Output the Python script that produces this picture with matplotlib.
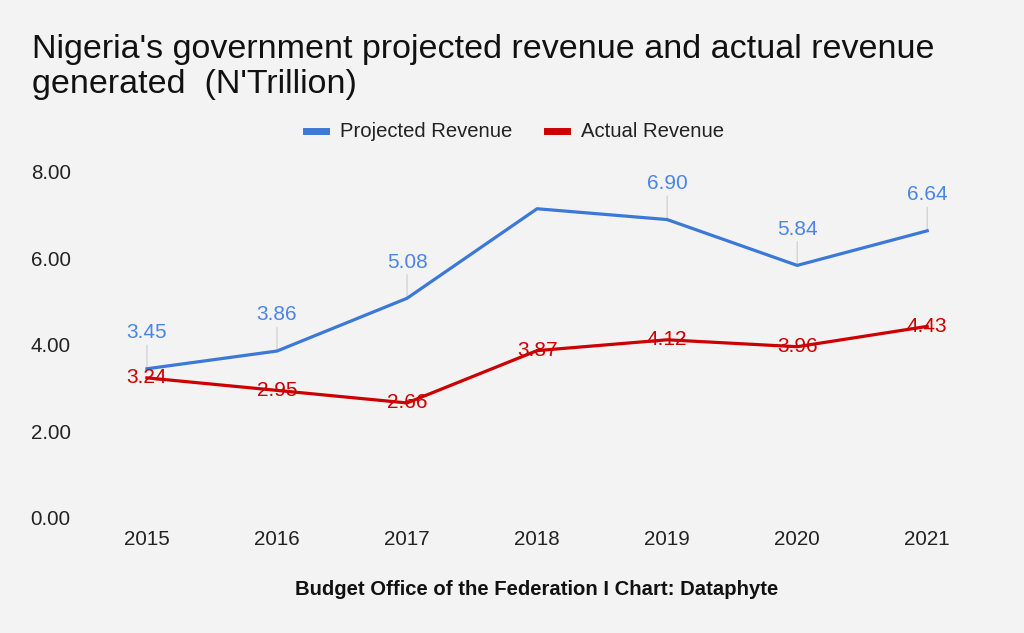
import matplotlib.pyplot as plt

years = ["2015", "2016", "2017", "2018", "2019", "2020", "2021"]
projected = [3.45, 3.86, 5.08, 7.15, 6.90, 5.84, 6.64]
actual = [3.24, 2.95, 2.66, 3.87, 4.12, 3.96, 4.43]
# 2018 projected value is not labelled on the original chart
projected_labels = ["3.45", "3.86", "5.08", "", "6.90", "5.84", "6.64"]
actual_labels = ["3.24", "2.95", "2.66", "3.87", "4.12", "3.96", "4.43"]
title_lines = ["Nigeria's government projected revenue and actual revenue",
               "generated  (N'Trillion)"]

BG = "#f3f3f3"
BLUE = "#3c78d8"
RED = "#cc0000"

plt.rcParams["font.family"] = ["Liberation Sans", "DejaVu Sans"]

fig = plt.figure(figsize=(10.24, 6.33), dpi=100, facecolor=BG)
ax = fig.add_axes([0.080, 0.1817, 0.889, 0.5466], facecolor=BG)

x = list(range(len(years)))
ax.plot(x, projected, color=BLUE, lw=2.3, label="Projected Revenue", zorder=3)
ax.plot(x, actual, color=RED, lw=2.3, label="Actual Revenue", zorder=3)

for xi, v, lab in zip(x, projected, projected_labels):
    if not lab:
        continue
    ax.annotate("", xy=(xi, v), xytext=(0, 17), textcoords="offset points",
                arrowprops=dict(arrowstyle="-", color="#cccccc", lw=0.8,
                                shrinkA=0, shrinkB=0), zorder=2)
    ax.annotate(lab, xy=(xi, v), xytext=(0, 26), textcoords="offset points",
                ha="center", va="center", fontsize=15, color="#4a86e8", zorder=4)

for xi, v, lab in zip(x, actual, actual_labels):
    ax.text(xi, v, lab, ha="center", va="center", fontsize=15, color=RED, zorder=4)

ax.set_xlim(-0.5, len(years) - 0.5)
ax.set_ylim(0, 8)
ax.set_xticks(x)
ax.set_xticklabels(years)
ax.set_yticks([0, 2, 4, 6, 8])
ax.set_yticklabels(["0.00", "2.00", "4.00", "6.00", "8.00"])
ax.tick_params(length=0, labelsize=14.8, colors="#222222", pad=9)
ax.tick_params(axis="y", pad=8)
for s in ax.spines.values():
    s.set_visible(False)

for i, line in enumerate(title_lines):
    fig.text(0.031, 0.9084 - i * 0.0553, line, fontsize=24.5, color="#111111",
             va="baseline", ha="left")

ax.legend(ncol=2, frameon=False, fontsize=14.6, handlelength=1.0, handleheight=0.5,
          columnspacing=1.7, handletextpad=0.7, labelcolor="#222222",
          loc="center", bbox_to_anchor=(0.503, 0.792), bbox_transform=fig.transFigure)
leg = ax.get_legend()
for h in leg.legend_handles:
    h.set_linewidth(5)

fig.text(0.524, 0.068, "Budget Office of the Federation I Chart: Dataphyte",
         fontsize=14.6, fontweight="bold", color="#111111", ha="center", va="center")

fig.savefig("out.png", dpi=100, facecolor=BG)
